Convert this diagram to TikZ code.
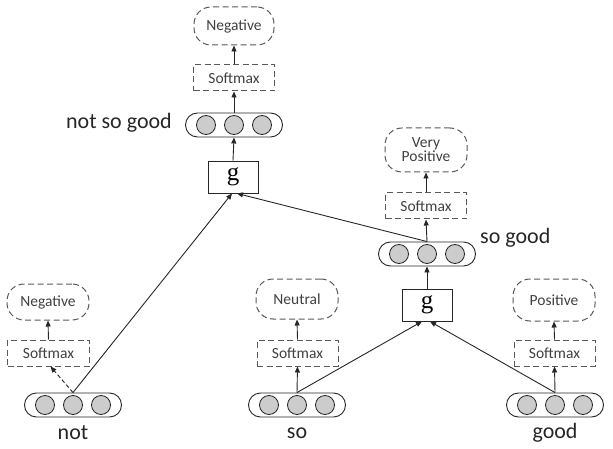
\documentclass[tikz,border=0pt]{standalone}
\usepackage{fontspec}
\setmainfont{Carlito}
\newfontfamily\gfont{Liberation Serif}
\usetikzlibrary{arrows.meta}
\tikzset{
  lbl/.style={font=\fontsize{15.5}{17}\selectfont, text=black!75},
  outbox/.style={draw=black!65, dash pattern=on 6pt off 3.5pt, rounded corners=17pt, line width=1pt, lbl, align=center, inner sep=0pt},
  smbox/.style={draw=black!65, dash pattern=on 6pt off 3.5pt, line width=1pt, minimum width=81pt, minimum height=26pt, lbl, inner sep=0pt},
  vecbox/.style={draw=black!85, rounded corners=12pt, line width=0.9pt, minimum width=97pt, minimum height=24pt, inner sep=0pt},
  cell/.style={circle, draw=black!85, fill=black!20, line width=0.8pt, minimum size=19pt, inner sep=0pt},
  gbox/.style={draw=black!85, line width=0.9pt, minimum width=50pt, minimum height=32pt, inner sep=0pt, font=\gfont\fontsize{25}{25}\selectfont},
  word/.style={font=\fontsize{22}{24}\selectfont, text=black!85, inner sep=0pt},
  arr/.style={-{Triangle[length=6pt,width=5pt]}, draw=black!85, line width=0.9pt},
  darr/.style={arr, dash pattern=on 4pt off 2.5pt}
}
\newcommand{\vecn}[3]{%
  \node[vecbox] (#1) at (#2,#3) {};
  \node[cell] (#1-1) at (#2-28,#3) {};
  \node[cell] (#1-2) at (#2,#3) {};
  \node[cell] (#1-3) at (#2+28,#3) {};
}
\begin{document}
\begin{tikzpicture}[x=1pt,y=-1pt]
\useasboundingbox (0,0) rectangle (613,449);
% top column
\node[outbox, minimum width=80pt, minimum height=38pt] (negT) at (234,26) {Negative};
\node[smbox] (smT) at (234,78) {Softmax};
\vecn{vT}{234}{125}
\node[gbox] (gT) at (233,177) {g};
\node[word, anchor=east] (lT) at (172,123) {not so good};
% right middle column
\node[outbox, minimum width=82pt, minimum height=44pt] (vp) at (426,150) {Very\\[-3pt]Positive};
\node[smbox] (smR) at (426,206) {Softmax};
\vecn{vR}{427}{254}
\node[gbox] (gR) at (427,305) {g};
\node[word, anchor=west] (lR) at (480,238) {so good};
% bottom left
\node[outbox, minimum width=82pt, minimum height=36pt] (negL) at (48,302) {Negative};
\node[smbox, minimum width=82pt] (smL) at (48.5,353) {Softmax};
\vecn{vL}{73}{405}
\node[word] (wL) at (73,433) {not};
% bottom middle
\node[outbox, minimum width=82pt, minimum height=40pt] (neu) at (297,299) {Neutral};
\node[smbox] (smM) at (297.5,353) {Softmax};
\vecn{vM}{297}{405}
\node[word] (wM) at (297,433) {so};
% bottom right
\node[outbox, minimum width=82pt, minimum height=42pt] (pos) at (554,300) {Positive};
\node[smbox] (smP) at (554.5,353) {Softmax};
\vecn{vP}{555}{405}
\node[word] (wP) at (555,433) {good};
% short arrows
\draw[arr] (smT.north) -- (negT.south);
\draw[arr] (vT.north) -- (smT.south);
\draw[arr] (gT.north) -- (vT.south);
\draw[arr] (smR.north) -- (vp.south);
\draw[arr] (vR.north) -- (smR.south);
\draw[arr] (gR.north) -- (vR.south);
\draw[arr] (smL.north) -- (negL.south);
\draw[darr] (vL.north) -- ([xshift=2pt]smL.south);
\draw[arr] (smM.north) -- (neu.south);
\draw[arr] (vM.north) -- (smM.south);
\draw[arr] (smP.north) -- (pos.south);
\draw[arr] (vP.north) -- (smP.south);
% long arrows
\draw[arr] (vL.north) -- ([xshift=-1pt]gT.south);
\draw[arr] (vR.north) -- ([xshift=4pt]gT.south);
\draw[arr] (vM.north) -- ([xshift=-5pt]gR.south);
\draw[arr] (vP.north) -- ([xshift=3pt]gR.south);
\end{tikzpicture}
\end{document}
